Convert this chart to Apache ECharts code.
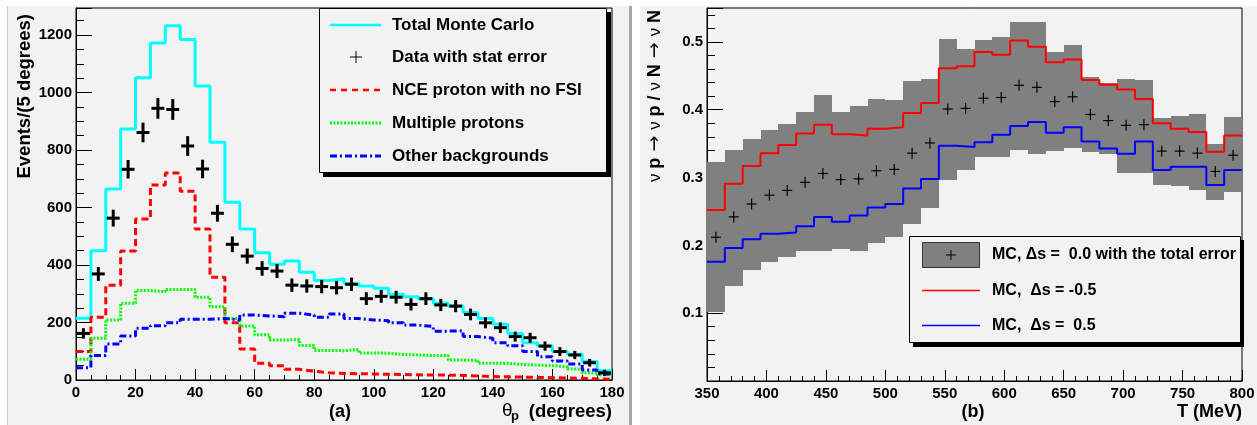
<!DOCTYPE html>
<html>
<head>
<meta charset="utf-8">
<script src="https://cdn.jsdelivr.net/npm/echarts@6/dist/echarts.min.js"></script>
<style>
html,body{margin:0;padding:0;background:#fff;}
#c{width:1257px;height:425px;}
</style>
</head>
<body>
<div id="c"></div>
<script>
// ---------- Panel (a): proton angle distribution ----------
const thetaEdges = [0,5,10,15,20,25,30,35,40,45,50,55,60,65,70,75,80,85,90,95,100,105,110,115,120,125,130,135,140,145,150,155,160,165,170,175,180];
const totalMC   = [215,450,664,873,1051,1172,1232,1184,1023,827,618,525,443,403,414,375,346,352,336,327,319,298,290,282,267,257,235,214,194,162,130,118,99,90,64,32];
const dataCounts= [162,369,563,733,861,945,941,814,734,580,472,431,388,379,330,327,325,321,333,283,291,288,263,283,261,257,228,199,182,151,147,118,99,87,60,25];
const dataErr   = [13,19,24,27,29,31,31,29,27,24,22,21,20,19,18,18,18,18,18,17,17,17,16,17,16,16,15,14,13,12,12,11,10,9,8,5];
const nceNoFSI  = [99,218,330,449,560,678,720,657,525,357,199,108,58,50,37,31,25,23,22,21,20,19,18,17,17,16,14,12,11,10,9,8,7,6,4,2];
const multiProt = [72,145,209,267,311,307,315,315,288,255,214,188,157,139,141,120,103,102,106,94,93,89,87,85,85,70,68,58,58,54,52,50,46,38,25,17];
const otherBkg  = [43,85,125,153,180,189,199,211,211,214,209,226,223,220,232,226,218,230,214,209,206,199,191,186,170,171,151,145,130,119,99,81,66,56,35,21];
const yTicksA = [0,200,400,600,800,1000,1200];

// ---------- Panel (b): ratio vs kinetic energy ----------
const tEdges = [350,365,380,395,410,425,440,455,470,485,500,515,530,545,560,575,590,605,620,635,650,665,680,695,710,725,740,755,770,785,800];
const mcCenter = [0.212,0.242,0.261,0.274,0.281,0.293,0.306,0.297,0.298,0.310,0.312,0.336,0.351,0.401,0.402,0.417,0.418,0.436,0.433,0.412,0.419,0.393,0.384,0.377,0.378,0.339,0.339,0.336,0.309,0.333];
const bandHigh = [0.323,0.341,0.357,0.370,0.379,0.396,0.421,0.397,0.406,0.416,0.414,0.442,0.446,0.505,0.490,0.503,0.507,0.530,0.530,0.485,0.496,0.448,0.440,0.445,0.444,0.388,0.391,0.393,0.350,0.389];
const bandLow  = [0.102,0.140,0.164,0.176,0.183,0.191,0.191,0.195,0.192,0.204,0.212,0.232,0.255,0.297,0.311,0.330,0.330,0.341,0.335,0.339,0.343,0.337,0.334,0.307,0.307,0.289,0.288,0.282,0.267,0.278];
const mcDsMinus= [0.252,0.291,0.317,0.336,0.348,0.365,0.378,0.364,0.362,0.372,0.374,0.395,0.410,0.461,0.464,0.485,0.481,0.502,0.493,0.470,0.474,0.444,0.437,0.430,0.416,0.380,0.372,0.367,0.338,0.362];
const mcDsPlus = [0.176,0.196,0.209,0.217,0.219,0.228,0.242,0.235,0.244,0.256,0.261,0.284,0.298,0.347,0.345,0.352,0.363,0.376,0.382,0.366,0.374,0.353,0.343,0.335,0.353,0.311,0.316,0.316,0.289,0.311];

const legendA = ['Total Monte Carlo','Data with stat error','NCE proton with no FSI','Multiple protons','Other backgrounds'];
const legendB = ['MC, \u0394s =  0.0 with the total error','MC,  \u0394s = -0.5','MC,  \u0394s =  0.5'];

const FONT = '"Liberation Sans", Arial, Helvetica, sans-serif';
const BG = '#f2f2f2';

function stepData(edges, vals) {
  const d = vals.map((v, i) => [edges[i], v]);
  d.push([edges[edges.length - 1], vals[vals.length - 1]]);
  return d;
}

const chart = echarts.init(document.getElementById('c'), null, {renderer: 'canvas'});

function axisCommon(extra) {
  return Object.assign({
    axisLine: {show: true, onZero: false, lineStyle: {color: '#000', width: 1}},
    splitLine: {show: false},
    minorSplitLine: {show: false}
  }, extra);
}
const labelBase = {color: '#000', fontFamily: FONT, fontWeight: 'bold', fontSize: 15};

const option = {
  animation: false,
  backgroundColor: '#fff',
  grid: [
    {left: 76, top: 8, width: 536, height: 372, show: true, borderColor: '#000', borderWidth: 1, backgroundColor: BG, containLabel: false, outerBoundsMode: 'none'},
    {left: 707, top: 8, width: 535, height: 373, show: true, borderColor: '#000', borderWidth: 1, backgroundColor: BG, containLabel: false, outerBoundsMode: 'none'}
  ],
  xAxis: [
    axisCommon({type: 'value', gridIndex: 0, min: 0, max: 180, interval: 20,
      axisTick: {show: true, inside: true, length: 11, lineStyle: {color: '#000'}},
      minorTick: {show: true, splitNumber: 4, length: 5, lineStyle: {color: '#000'}},
      axisLabel: Object.assign({}, labelBase, {margin: 5, showMaxLabel: true, formatter: v => String(v)})}),
    axisCommon({type: 'value', gridIndex: 1, min: 350, max: 800, interval: 50,
      axisTick: {show: true, inside: true, length: 11, lineStyle: {color: '#000'}},
      minorTick: {show: true, splitNumber: 5, length: 5, lineStyle: {color: '#000'}},
      axisLabel: Object.assign({}, labelBase, {margin: 5, showMaxLabel: true, formatter: v => String(v)})})
  ],
  yAxis: [
    axisCommon({type: 'value', gridIndex: 0, min: yTicksA[0], max: 1294, interval: 200,
      axisTick: {show: true, inside: true, length: 16, lineStyle: {color: '#000'}},
      minorTick: {show: true, splitNumber: 4, length: 8, lineStyle: {color: '#000'}},
      axisLabel: Object.assign({}, labelBase, {margin: 4, showMaxLabel: false, formatter: v => String(Math.round(v))})}),
    axisCommon({type: 'value', gridIndex: 1, min: 0, max: 0.55, interval: 0.1,
      axisTick: {show: true, inside: true, length: 16, lineStyle: {color: '#000'}},
      minorTick: {show: true, splitNumber: 5, length: 8, lineStyle: {color: '#000'}},
      axisLabel: Object.assign({}, labelBase, {margin: 4, showMaxLabel: false,
        formatter: v => (v === 0 ? '' : v.toFixed(1))})})
  ],
  series: [
    {type: 'line', xAxisIndex: 0, yAxisIndex: 0, step: 'end', symbol: 'none', data: stepData(thetaEdges, totalMC),
      lineStyle: {color: '#00ffff', width: 3}, z: 3},
    {type: 'line', xAxisIndex: 0, yAxisIndex: 0, step: 'end', symbol: 'none', data: stepData(thetaEdges, nceNoFSI),
      lineStyle: {color: '#ff0000', width: 3, type: [7, 4]}, z: 3},
    {type: 'line', xAxisIndex: 0, yAxisIndex: 0, step: 'end', symbol: 'none', data: stepData(thetaEdges, multiProt),
      lineStyle: {color: '#00ff00', width: 3, type: [2, 1.5]}, z: 3},
    {type: 'line', xAxisIndex: 0, yAxisIndex: 0, step: 'end', symbol: 'none', data: stepData(thetaEdges, otherBkg),
      lineStyle: {color: '#0000ff', width: 3, type: [7, 3, 2, 3]}, z: 3},
    {type: 'custom', xAxisIndex: 0, yAxisIndex: 0, z: 4,
      data: dataCounts.map((v, i) => [thetaEdges[i], v, dataErr[i], thetaEdges[i + 1]]),
      renderItem: function (params, api) {
        const lo = api.value(0), y = api.value(1), e = api.value(2), hi = api.value(3);
        const mid = (lo + hi) / 2;
        const pL = api.coord([lo, y]), pR = api.coord([hi, y]);
        const pT = api.coord([mid, y + e]), pB = api.coord([mid, y - e]);
        return {type: 'group', children: [
          {type: 'line', shape: {x1: pL[0] + 1, y1: pL[1], x2: pR[0] - 1, y2: pR[1]}, style: {stroke: '#000', lineWidth: 3}},
          {type: 'line', shape: {x1: pT[0], y1: pT[1] - 1.5, x2: pB[0], y2: pB[1] + 1.5}, style: {stroke: '#000', lineWidth: 3}}
        ]};
      }},
    // panel (b)
    {type: 'custom', xAxisIndex: 1, yAxisIndex: 1, z: 2,
      data: bandHigh.map((h, i) => [tEdges[i], bandLow[i], h, tEdges[i + 1]]),
      renderItem: function (params, api) {
        const p1 = api.coord([api.value(0), api.value(2)]);
        const p2 = api.coord([api.value(3), api.value(1)]);
        const x1 = Math.round(p1[0]), x2 = Math.round(p2[0]);
        const y1 = Math.round(p1[1]), y2 = Math.round(p2[1]);
        return {type: 'rect', shape: {x: x1, y: y1, width: x2 - x1, height: y2 - y1},
          style: {fill: '#808080'}};
      }},
    {type: 'line', xAxisIndex: 1, yAxisIndex: 1, step: 'end', symbol: 'none', data: stepData(tEdges, mcDsMinus),
      lineStyle: {color: '#ff0000', width: 2}, z: 3},
    {type: 'line', xAxisIndex: 1, yAxisIndex: 1, step: 'end', symbol: 'none', data: stepData(tEdges, mcDsPlus),
      lineStyle: {color: '#0000ff', width: 2}, z: 3},
    {type: 'custom', xAxisIndex: 1, yAxisIndex: 1, z: 4,
      data: mcCenter.map((v, i) => [(tEdges[i] + tEdges[i + 1]) / 2, v]),
      renderItem: function (params, api) {
        const p = api.coord([api.value(0), api.value(1)]);
        return {type: 'group', children: [
          {type: 'line', shape: {x1: p[0] - 5, y1: p[1], x2: p[0] + 5, y2: p[1]}, style: {stroke: '#000', lineWidth: 1.2}},
          {type: 'line', shape: {x1: p[0], y1: p[1] - 5.5, x2: p[0], y2: p[1] + 5.5}, style: {stroke: '#000', lineWidth: 1.2}}
        ]};
      }}
  ],
  graphic: [
    // pad backgrounds
    {type: 'rect', z: -100, silent: true, shape: {x: 8, y: 6, width: 621, height: 419}, style: {fill: BG}},
    {type: 'rect', z: -100, silent: true, shape: {x: 7, y: 6, width: 1, height: 419}, style: {fill: '#c8c8c8'}},
    {type: 'rect', z: -100, silent: true, shape: {x: 629, y: 6, width: 3, height: 419}, style: {fill: '#a8a8a8'}},
    {type: 'rect', z: -100, silent: true, shape: {x: 640, y: 6, width: 617, height: 419}, style: {fill: BG}},
    // axis titles
    {type: 'text', z: 50, x: 25, y: 14, rotation: Math.PI / 2,
      style: {text: 'Events/(5 degrees)', font: 'bold 18.5px ' + FONT, fill: '#000', align: 'right', verticalAlign: 'middle'}},
    {type: 'text', z: 50, x: 340, y: 412,
      style: {text: '(a)', font: 'bold 18px ' + FONT, fill: '#000', align: 'center', verticalAlign: 'middle'}},
    {type: 'text', z: 50, x: 612, y: 412,
      style: {text: '(degrees)', font: 'bold 18.5px ' + FONT, fill: '#000', align: 'right', verticalAlign: 'middle'}},
    {type: 'text', z: 50, x: 502, y: 411,
      style: {text: '\u03b8', font: '19px ' + FONT, fill: '#000', align: 'left', verticalAlign: 'middle'}},
    {type: 'text', z: 50, x: 511, y: 416,
      style: {text: 'p', font: 'bold 13px ' + FONT, fill: '#000', align: 'left', verticalAlign: 'middle'}},
    {type: 'text', z: 50, x: 655, y: 10, rotation: Math.PI / 2,
      style: {text: '{s|\u03bd }p{a| \u2192 }{s|\u03bd }p / {s|\u03bd }N{a| \u2192 }{s|\u03bd }N', font: 'bold 18px ' + FONT, fill: '#000', align: 'right', verticalAlign: 'middle',
        rich: {s: {font: '17px ' + FONT, fill: '#000'}, a: {font: '19px "DejaVu Sans", ' + FONT, fill: '#000'}}}},
    {type: 'text', z: 50, x: 973, y: 412,
      style: {text: '(b)', font: 'bold 18px ' + FONT, fill: '#000', align: 'center', verticalAlign: 'middle'}},
    {type: 'text', z: 50, x: 1242, y: 412,
      style: {text: 'T (MeV)', font: 'bold 18px ' + FONT, fill: '#000', align: 'right', verticalAlign: 'middle'}},
    // legend (a)
    {type: 'rect', z: 60, shape: {x: 323, y: 12, width: 288, height: 165}, style: {fill: '#000'}},
    {type: 'rect', z: 61, shape: {x: 319.5, y: 8.5, width: 287, height: 164}, style: {fill: BG, stroke: '#000', lineWidth: 1}},
    {type: 'line', z: 62, shape: {x1: 330, y1: 25, x2: 381, y2: 25}, style: {stroke: '#00ffff', lineWidth: 2.5}},
    {type: 'line', z: 62, shape: {x1: 350, y1: 57, x2: 362, y2: 57}, style: {stroke: '#000', lineWidth: 1}},
    {type: 'line', z: 62, shape: {x1: 356, y1: 51, x2: 356, y2: 63}, style: {stroke: '#000', lineWidth: 1}},
    {type: 'line', z: 62, shape: {x1: 330, y1: 90, x2: 381, y2: 90}, style: {stroke: '#ff0000', lineWidth: 2.5, lineDash: [6, 5]}},
    {type: 'line', z: 62, shape: {x1: 330, y1: 123, x2: 381, y2: 123}, style: {stroke: '#00ff00', lineWidth: 3, lineDash: [2, 1.5]}},
    {type: 'line', z: 62, shape: {x1: 330, y1: 156, x2: 381, y2: 156}, style: {stroke: '#0000ff', lineWidth: 3, lineDash: [7, 3, 2, 3]}},
    {type: 'text', z: 62, x: 392, y: 25, style: {text: legendA[0], font: 'bold 17px ' + FONT, fill: '#000', verticalAlign: 'middle'}},
    {type: 'text', z: 62, x: 392, y: 57, style: {text: legendA[1], font: 'bold 17px ' + FONT, fill: '#000', verticalAlign: 'middle'}},
    {type: 'text', z: 62, x: 392, y: 90, style: {text: legendA[2], font: 'bold 17px ' + FONT, fill: '#000', verticalAlign: 'middle'}},
    {type: 'text', z: 62, x: 392, y: 123, style: {text: legendA[3], font: 'bold 17px ' + FONT, fill: '#000', verticalAlign: 'middle'}},
    {type: 'text', z: 62, x: 392, y: 156, style: {text: legendA[4], font: 'bold 17px ' + FONT, fill: '#000', verticalAlign: 'middle'}},
    // legend (b)
    {type: 'rect', z: 60, shape: {x: 913, y: 240, width: 331, height: 107}, style: {fill: '#000'}},
    {type: 'rect', z: 61, shape: {x: 909.5, y: 236.5, width: 331, height: 106}, style: {fill: BG, stroke: '#000', lineWidth: 1}},
    {type: 'rect', z: 62, shape: {x: 922.5, y: 242.5, width: 57, height: 25}, style: {fill: '#808080', stroke: '#333', lineWidth: 1}},
    {type: 'line', z: 63, shape: {x1: 946, y1: 255, x2: 956, y2: 255}, style: {stroke: '#000', lineWidth: 1}},
    {type: 'line', z: 63, shape: {x1: 951, y1: 250, x2: 951, y2: 260}, style: {stroke: '#000', lineWidth: 1}},
    {type: 'line', z: 62, shape: {x1: 922, y1: 290.5, x2: 980, y2: 290.5}, style: {stroke: '#ff0000', lineWidth: 1.5}},
    {type: 'line', z: 62, shape: {x1: 922, y1: 325.5, x2: 980, y2: 325.5}, style: {stroke: '#0000ff', lineWidth: 1.5}},
    {type: 'text', z: 62, x: 992, y: 255, style: {text: legendB[0], font: 'bold 16px ' + FONT, fill: '#000', verticalAlign: 'middle'}},
    {type: 'text', z: 62, x: 992, y: 291, style: {text: legendB[1], font: 'bold 16px ' + FONT, fill: '#000', verticalAlign: 'middle'}},
    {type: 'text', z: 62, x: 992, y: 326, style: {text: legendB[2], font: 'bold 16px ' + FONT, fill: '#000', verticalAlign: 'middle'}}
  ]
};
chart.setOption(option);
</script>
</body>
</html>
